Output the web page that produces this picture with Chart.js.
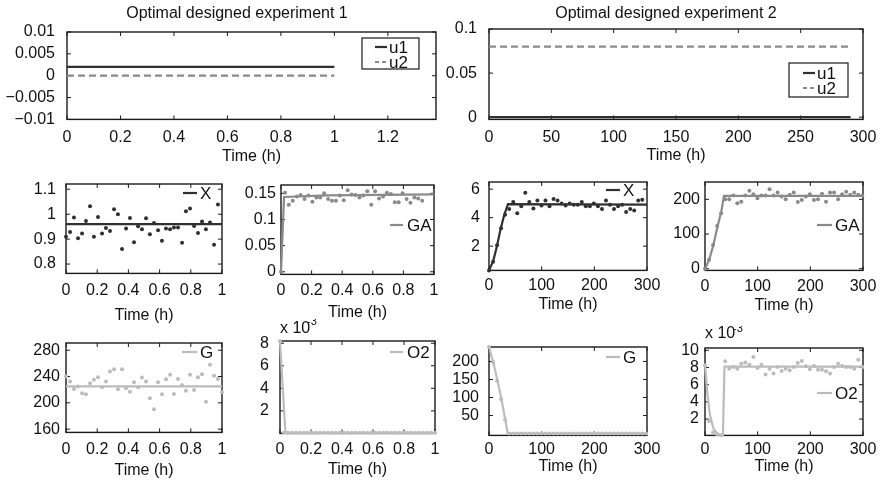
<!DOCTYPE html>
<html><head><meta charset="utf-8">
<script src="https://cdn.jsdelivr.net/npm/chart.js@4.4.1/dist/chart.umd.min.js"></script>
<style>
html,body{margin:0;padding:0;background:#fff;overflow:hidden;width:887px;height:482px;position:relative;}
canvas{position:absolute;}
</style></head><body>
<script>
// ================= DATA =================
// sample times, experiment 1 (h) and experiment 2 (h)
const t1 = [0, 0.026, 0.051, 0.077, 0.103, 0.128, 0.154, 0.179, 0.205, 0.231, 0.256, 0.282, 0.308, 0.333, 0.359, 0.385, 0.410, 0.436, 0.462, 0.487, 0.513, 0.538, 0.564, 0.590, 0.615, 0.641, 0.667, 0.692, 0.718, 0.744, 0.769, 0.795, 0.821, 0.846, 0.872, 0.897, 0.923, 0.949, 0.974, 1.0];
const t2 = [0, 7.7, 15.3, 23.0, 30.6, 38.3, 46.0, 53.6, 61.3, 68.9, 76.6, 84.3, 91.9, 99.6, 107.2, 114.9, 122.6, 130.2, 137.9, 145.5, 153.2, 160.9, 168.5, 176.2, 183.8, 191.5, 199.1, 206.8, 214.5, 222.1, 229.8, 237.4, 245.1, 252.8, 260.4, 268.1, 275.7, 283.4, 291.0, 298.7];

// inputs
const exp1_u_time = [0, 1];
const exp1_u1 = [0.002, 0.002];
const exp1_u2 = [0, 0];
const exp2_u_time = [0, 290];
const exp2_u1 = [0, 0];
const exp2_u2 = [0.08, 0.08];

// experiment 1 measurements
const exp1_X_data = [0.909, 0.929, 0.987, 0.903, 0.923, 0.973, 1.032, 0.909, 0.989, 0.923, 0.945, 0.933, 1.02, 1.0, 0.86, 0.943, 0.985, 0.887, 0.952, 0.94, 0.984, 0.919, 0.965, 0.936, 0.893, 0.943, 0.94, 0.947, 0.947, 0.885, 1.012, 1.023, 0.953, 0.925, 0.971, 0.94, 0.967, 0.877, 1.039];
const exp1_GA_data = [0, 0.151, 0.128, 0.136, 0.144, 0.147, 0.139, 0.146, 0.134, 0.142, 0.142, 0.15, 0.139, 0.136, 0.136, 0.146, 0.137, 0.156, 0.148, 0.147, 0.142, 0.146, 0.154, 0.128, 0.154, 0.14, 0.144, 0.151, 0.149, 0.133, 0.133, 0.15, 0.139, 0.132, 0.142, 0.14, 0.136];
const exp1_G_data = [240, 232.3, 221, 224.7, 214.5, 213, 229.8, 235, 239, 223.6, 232.3, 247.7, 251.2, 220.6, 251.2, 222, 217, 231.3, 223.6, 238.5, 232.3, 206.8, 190.4, 231.3, 213, 236, 242.6, 213.4, 236.4, 227.2, 218.5, 242.6, 219.6, 239, 243.6, 201.7, 257.9, 241, 236.4, 216];
const exp1_O2_data = [8.2, 0.05, 0.05, 0.05, 0.05, 0.05, 0.05, 0.05, 0.05, 0.05, 0.05, 0.05, 0.05, 0.05, 0.05, 0.05, 0.05, 0.05, 0.05, 0.05, 0.05, 0.05, 0.05, 0.05, 0.05, 0.05, 0.05, 0.05, 0.05, 0.05, 0.05, 0.05, 0.05, 0.05, 0.05, 0.05, 0.05, 0.05, 0.05, 0.05]; // x 10^-3

// experiment 1 model curves
const exp1_X_model_t = [0, 1];
const exp1_X_model = [0.96, 0.96];
const exp1_GA_model_t = [0, 0.02, 0.3, 1];
const exp1_GA_model = [0, 0.143, 0.146, 0.148];
const exp1_G_model_t = [0, 1];
const exp1_G_model = [225, 225];
const exp1_O2_model_t = [0, 0.035, 1];
const exp1_O2_model = [8.2, 0.05, 0.05]; // x 10^-3

// experiment 2 measurements
const exp2_X_data = [0.3, 0.9, 2.07, 3.25, 4.2, 4.6, 5.1, 4.3, 4.8, 5.75, 5.1, 4.65, 5.2, 4.85, 5.2, 4.8, 5.3, 5.2, 5.0, 4.85, 5.0, 4.9, 4.9, 5.1, 4.8, 4.8, 5.0, 4.8, 4.6, 5.2, 4.9, 4.6, 4.8, 4.9, 4.4, 4.6, 4.5, 5.2, 5.25];
const exp2_GA_data = [0, 26, 68, 123, 160, 200, 200, 211, 189, 193, 211, 225, 215, 203, 211, 211, 229, 211, 220, 208, 200, 213, 220, 192, 198, 208, 215, 198, 200, 216, 193, 220, 220, 200, 215, 222, 213, 220, 213, 211];
const exp2_G_data = [240, 198, 146.5, 95, 38.6, 0, 0, 0, 0, 0, 0, 0, 0, 0, 0, 0, 0, 0, 0, 0, 0, 0, 0, 0, 0, 0, 0, 0, 0, 0, 0, 0, 0, 0, 0, 0, 0, 0, 0, 0];
const exp2_O2_data = [8.26, 1.78, 0.43, 0.23, 0.12, 8.72, 7.87, 8.06, 7.87, 8.45, 8.57, 8.33, 9.22, 7.95, 8.33, 7.2, 7.87, 7.29, 8.06, 7.6, 7.87, 7.67, 8.06, 8.53, 8.76, 8.14, 7.79, 8.18, 7.75, 7.75, 7.56, 7.29, 8.06, 8.45, 8.18, 8.06, 8.06, 7.87, 8.91, 8.06]; // x 10^-3

// experiment 2 model curves
const exp2_X_model_t = [0, 8, 15, 22, 29, 36, 300];
const exp2_X_model = [0.3, 0.95, 2.0, 3.2, 4.2, 4.95, 4.92];
const exp2_GA_model_t = [0, 8, 16, 24, 31, 36, 300];
const exp2_GA_model = [0, 26, 68, 123, 165, 210, 210];
const exp2_G_model_t = [0, 7.7, 16, 23.6, 30.6, 35.7, 300];
const exp2_G_model = [240, 200, 148, 96, 40, 0, 0];
const exp2_O2_model_t = [0, 4.5, 9, 16, 23.6, 31, 34, 37, 300];
const exp2_O2_model = [8.3, 5.0, 2.6, 0.9, 0.3, 0.12, 0.12, 8.1, 8.1]; // x 10^-3

// tick values
const ticks_u_exp1_x = [0, 0.2, 0.4, 0.6, 0.8, 1, 1.2];
const ticks_u_exp1_y = [-0.01, -0.005, 0, 0.005, 0.01];
const ticks_u_exp2_x = [0, 50, 100, 150, 200, 250, 300];
const ticks_u_exp2_y = [0, 0.05, 0.1];
const ticks_exp1_x = [0, 0.2, 0.4, 0.6, 0.8, 1];
const ticks_exp2_x = [0, 100, 200, 300];
const ticks_X1_y = [0.8, 0.9, 1, 1.1];
const ticks_GA1_y = [0, 0.05, 0.1, 0.15];
const ticks_G1_y = [160, 200, 240, 280];
const ticks_O21_y = [2, 4, 6, 8];
const ticks_X2_y = [2, 4, 6];
const ticks_GA2_y = [0, 100, 200];
const ticks_G2_y = [50, 100, 150, 200];
const ticks_O22_y = [2, 4, 6, 8, 10];

// ================= STYLE =================
const FONT = '"Liberation Sans", Arial, Helvetica, sans-serif';
const C_DARK = '#303030', C_MID = '#8a8a8a', C_LIGHT = '#bcbcbc', C_TXT = '#111';
const fmt = v => (v < 0 ? '\u2212' : '') + String(Math.abs(v));
const pts = (t, v) => v.map((y, i) => ({x: t[i], y}));

function lineDs(t, v, color, dash) {
  return {data: pts(t, v), showLine: true, borderColor: color, borderWidth: 2.2, borderDash: dash || [],
    pointRadius: 0, tension: 0, clip: false, order: 0};
}
function dotDs(t, v, color) {
  return {data: pts(t, v), showLine: false, pointRadius: 2, pointBorderWidth: 0,
    backgroundColor: color, borderColor: color, clip: false, order: 1};
}

const framePlugin = {
  id: 'frame',
  beforeDatasetsDraw(chart) {
    const {ctx, chartArea: a, scales: {x, y}} = chart;
    ctx.save();
    ctx.strokeStyle = '#1a1a1a';
    ctx.lineWidth = 1.4;
    ctx.strokeRect(a.left, a.top, a.right - a.left, a.bottom - a.top);
    ctx.lineWidth = 1;
    const tl = 4;
    ctx.beginPath();
    x.ticks.forEach(t => {
      const p = x.getPixelForValue(t.value);
      ctx.moveTo(p, a.bottom); ctx.lineTo(p, a.bottom - tl);
      ctx.moveTo(p, a.top); ctx.lineTo(p, a.top + tl);
    });
    y.ticks.forEach(t => {
      const p = y.getPixelForValue(t.value);
      ctx.moveTo(a.left, p); ctx.lineTo(a.left + tl, p);
      ctx.moveTo(a.right, p); ctx.lineTo(a.right - tl, p);
    });
    ctx.stroke();
    ctx.restore();
  },
  afterDraw(chart, args, opts) {
    const {ctx, chartArea: a} = chart;
    ctx.save();
    const lg = opts.legend;
    if (lg) {
      if (lg.box) {
        const [l, t, r, b] = lg.box;
        ctx.fillStyle = '#fff';
        ctx.fillRect(a.right - l, a.top + t, l - r, b - t);
        ctx.strokeStyle = '#1a1a1a'; ctx.lineWidth = 1.2;
        ctx.strokeRect(a.right - l, a.top + t, l - r, b - t);
      }
      lg.items.forEach(it => {
        ctx.strokeStyle = it.color; ctx.lineWidth = 2.2;
        ctx.setLineDash(it.dash || []);
        ctx.beginPath();
        ctx.moveTo(a.right - it.x0, a.top + it.y);
        ctx.lineTo(a.right - it.x1, a.top + it.y);
        ctx.stroke();
        ctx.setLineDash([]);
        ctx.fillStyle = C_TXT;
        ctx.font = '17px ' + FONT;
        ctx.textAlign = 'left'; ctx.textBaseline = 'middle';
        ctx.fillText(it.text, a.right - it.tx, a.top + it.y + 1);
      });
    }
    (opts.texts || []).forEach(tx => {
      ctx.fillStyle = C_TXT;
      ctx.font = (tx.size || 16) + 'px ' + FONT;
      ctx.textAlign = tx.align || 'left';
      ctx.textBaseline = 'alphabetic';
      ctx.fillText(tx.text, a.left + tx.dx, a.top + tx.dy);
    });
    ctx.restore();
  }
};

function panel(o) {
  const padL = 75, padR = 30, padT = o.padT || 22;
  const tSize = o.titleSize || 16;
  const xH = o.titleY + tSize * 0.6 - o.B;
  const cw = Math.round(o.R - o.L + padL + padR);
  const ch = Math.round(o.B - o.T + padT + xH);
  const c = document.createElement('canvas');
  c.width = cw; c.height = ch;
  c.style.width = cw + 'px'; c.style.height = ch + 'px';
  c.style.left = (o.L - padL) + 'px'; c.style.top = (o.T - padT) + 'px';
  document.body.appendChild(c);
  const tickFont = {family: FONT, size: 16};
  new Chart(c, {
    type: 'scatter',
    data: {datasets: o.datasets},
    options: {
      responsive: false, animation: false, devicePixelRatio: 1,
      events: [],
      layout: {padding: {left: 0, top: padT, right: padR, bottom: 0}},
      plugins: {legend: {display: false}, tooltip: {enabled: false},
        frame: {legend: o.legend, texts: o.texts}},
      scales: {
        x: {type: 'linear', position: 'bottom', min: o.xr[0], max: o.xr[1],
          afterBuildTicks: s => { s.ticks = o.xt.map(v => ({value: v})); },
          afterFit: s => { s.height = xH; },
          grid: {display: false, drawTicks: false}, border: {display: false},
          ticks: {padding: o.xLabelY - o.B - 7.6, font: tickFont, color: C_TXT, callback: fmt,
            maxRotation: 0, autoSkip: false},
          title: {display: true, text: 'Time (h)', font: {family: FONT, size: tSize}, color: C_TXT, padding: {top: 0, bottom: 0}}
        },
        y: {type: 'linear', position: 'left', min: o.yr[0], max: o.yr[1],
          afterBuildTicks: s => { s.ticks = o.yt.map(v => ({value: v})); },
          afterFit: s => { s.width = padL; },
          grid: {display: false, drawTicks: false}, border: {display: false},
          ticks: {padding: o.yGap, font: tickFont, color: C_TXT, callback: fmt, autoSkip: false}
        }
      }
    },
    plugins: [framePlugin]
  });
}

// ================= PANELS =================
// 1. inputs, experiment 1
panel({L: 67, T: 32, R: 436, B: 119, padT: 32, xr: [0, 1.38], yr: [-0.01, 0.01],
  xt: ticks_u_exp1_x, yt: ticks_u_exp1_y, yGap: 12, xLabelY: 135, titleY: 156,
  datasets: [lineDs(exp1_u_time, exp1_u1, C_DARK), lineDs(exp1_u_time, exp1_u2, C_MID, [7, 4])],
  legend: {box: [74, 6, 17, 37], items: [
    {x0: 61, x1: 49, tx: 47, y: 15, text: 'u1', color: C_DARK},
    {x0: 61, x1: 49, tx: 47, y: 30, text: 'u2', color: C_MID, dash: [4, 3]}]},
  texts: [{text: 'Optimal designed experiment 1', dx: 170, dy: -14.5, align: 'center'}]
});
// 2. inputs, experiment 2
panel({L: 489, T: 29, R: 863, B: 119, padT: 29, xr: [0, 300], yr: [-0.0025, 0.1],
  xt: ticks_u_exp2_x, yt: ticks_u_exp2_y, yGap: 12, xLabelY: 135, titleY: 155,
  datasets: [lineDs(exp2_u_time, exp2_u1, C_DARK), lineDs(exp2_u_time, exp2_u2, C_MID, [7, 4])],
  legend: {box: [74, 34, 15, 68], items: [
    {x0: 60, x1: 48, tx: 46, y: 44, text: 'u1', color: C_DARK},
    {x0: 60, x1: 48, tx: 46, y: 59, text: 'u2', color: C_MID, dash: [4, 3]}]},
  texts: [{text: 'Optimal designed experiment 2', dx: 177, dy: -11.5, align: 'center'}]
});
// 3. X, experiment 1
panel({L: 66, T: 184, R: 222, B: 273, xr: [0, 1], yr: [0.7625, 1.121],
  xt: ticks_exp1_x, yt: ticks_X1_y, yGap: 10, xLabelY: 288, titleY: 315,
  datasets: [lineDs(exp1_X_model_t, exp1_X_model, C_DARK), dotDs(t1, exp1_X_data, C_DARK)],
  legend: {items: [{x0: 39, x1: 25, tx: 22, y: 9, text: 'X', color: C_DARK}]}
});
// 4. GA, experiment 1
panel({L: 281, T: 185, R: 434, B: 274, xr: [0, 1], yr: [-0.005, 0.166],
  xt: ticks_exp1_x, yt: ticks_GA1_y, yGap: 5, xLabelY: 288, titleY: 312,
  datasets: [lineDs(exp1_GA_model_t, exp1_GA_model, C_MID), dotDs(t1, exp1_GA_data, C_MID)],
  legend: {items: [{x0: 44, x1: 31, tx: 27, y: 40, text: 'GA', color: C_MID}]}
});
// 5. X, experiment 2
panel({L: 489, T: 182, R: 647, B: 270, xr: [0, 300], yr: [0.3, 6.5],
  xt: ticks_exp2_x, yt: ticks_X2_y, yGap: 9, xLabelY: 283, titleY: 304,
  datasets: [lineDs(exp2_X_model_t, exp2_X_model, C_DARK), dotDs(t2, exp2_X_data, C_DARK)],
  legend: {items: [{x0: 41, x1: 27, tx: 24, y: 8, text: 'X', color: C_DARK}]}
});
// 6. GA, experiment 2
panel({L: 705, T: 182, R: 863, B: 270, xr: [0, 300], yr: [-5, 250],
  xt: ticks_exp2_x, yt: ticks_GA2_y, yGap: 5, xLabelY: 284, titleY: 305,
  datasets: [lineDs(exp2_GA_model_t, exp2_GA_model, C_MID), dotDs(t2, exp2_GA_data, C_MID)],
  legend: {items: [{x0: 46, x1: 31, tx: 28, y: 43, text: 'GA', color: C_MID}]}
});
// 7. G, experiment 1
panel({L: 66, T: 343, R: 222, B: 432, xr: [0, 1], yr: [155, 291],
  xt: ticks_exp1_x, yt: ticks_G1_y, yGap: 6, xLabelY: 447, titleY: 470,
  datasets: [lineDs(exp1_G_model_t, exp1_G_model, C_LIGHT), dotDs(t1, exp1_G_data, C_LIGHT)],
  legend: {items: [{x0: 40, x1: 25, tx: 22, y: 9, text: 'G', color: C_LIGHT}]}
});
// 8. O2, experiment 1
panel({L: 280, T: 341, R: 435, B: 433, xr: [0, 1], yr: [0, 8.2],
  xt: ticks_exp1_x, yt: ticks_O21_y, yGap: 11, xLabelY: 447, titleY: 469,
  datasets: [lineDs(exp1_O2_model_t, exp1_O2_model, C_LIGHT), dotDs(t1, exp1_O2_data, C_LIGHT)],
  legend: {items: [{x0: 45, x1: 32, tx: 28, y: 11, text: 'O2', color: C_LIGHT}]},
  texts: [{text: 'x 10', dx: 0, dy: -7.7}, {text: '-3', dx: 27, dy: -16, size: 11}]
});
// 9. G, experiment 2
panel({L: 489, T: 347, R: 647, B: 435, xr: [0, 300], yr: [-5, 240],
  xt: ticks_exp2_x, yt: ticks_G2_y, yGap: 10, xLabelY: 447, titleY: 466,
  datasets: [lineDs(exp2_G_model_t, exp2_G_model, C_LIGHT), dotDs(t2, exp2_G_data, C_LIGHT)],
  legend: {items: [{x0: 41, x1: 27, tx: 24, y: 10, text: 'G', color: C_LIGHT}]}
});
// 10. O2, experiment 2
panel({L: 705, T: 348, R: 863, B: 435, xr: [0, 300], yr: [0.1, 10.27],
  xt: ticks_exp2_x, yt: ticks_O22_y, yGap: 6, xLabelY: 447, titleY: 466,
  datasets: [lineDs(exp2_O2_model_t, exp2_O2_model, C_LIGHT), dotDs(t2, exp2_O2_data, C_LIGHT)],
  legend: {items: [{x0: 46, x1: 31, tx: 28, y: 45, text: 'O2', color: C_LIGHT}]},
  texts: [{text: 'x 10', dx: 0, dy: -9.7}, {text: '-3', dx: 28, dy: -16.3, size: 11}]
});
</script>
</body></html>
